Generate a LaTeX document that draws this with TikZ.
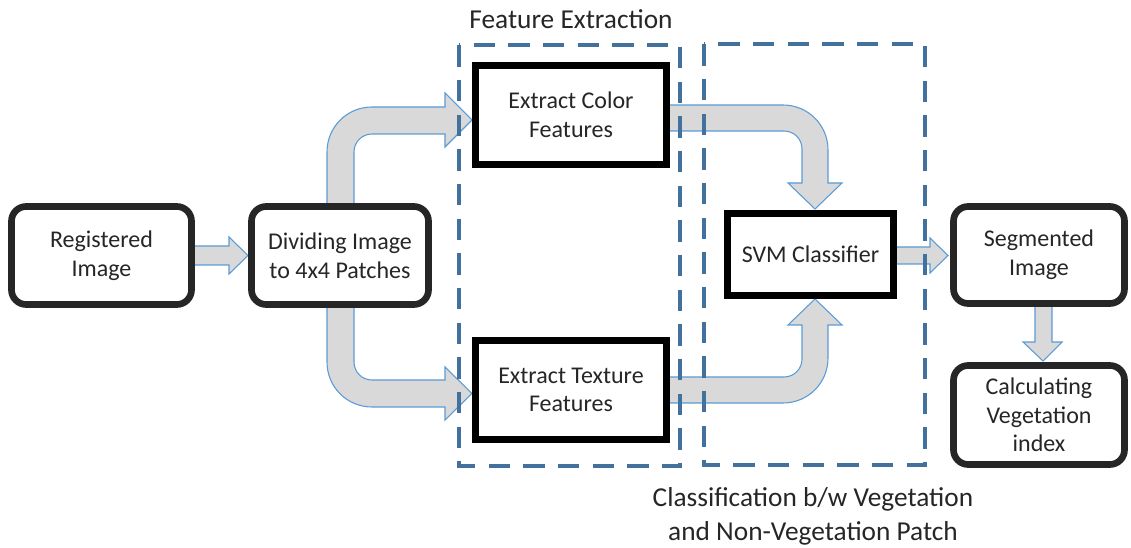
\documentclass[tikz,border=0pt]{standalone}
\usepackage{fontspec}
\setmainfont{Carlito}
\definecolor{txt}{HTML}{262626}
\definecolor{dashblue}{HTML}{41719C}
\definecolor{arrowfill}{HTML}{D9D9D9}
\definecolor{arrowline}{HTML}{5B9BD5}
\begin{document}
\begin{tikzpicture}[x=0.75pt,y=-0.75pt,
  rbox/.style={draw=txt,line width=5pt,rounded corners=11pt,fill=white,align=center,
    text=txt,font=\fontsize{18}{21.5}\selectfont,inner sep=0pt,outer sep=0pt},
  sbox/.style={draw=black,line width=5pt,fill=white,align=center,
    text=txt,font=\fontsize{18}{21.5}\selectfont,inner sep=0pt,outer sep=0pt},
  barrow/.style={fill=arrowfill,draw=arrowline,line width=0.8pt,line join=miter},
  groupbox/.style={draw=dashblue,line width=3pt,dash pattern=on 16pt off 10pt},
  lbl/.style={text=txt,align=center,font=\fontsize{20.5}{25.5}\selectfont,inner sep=0pt}]
\useasboundingbox (0,0) rectangle (1131,548);

% block arrows
\draw[barrow] (190,246) -- (229,246) -- (229,237) -- (248,255.5) -- (229,274) -- (229,265) -- (190,265) -- cycle;
\draw[barrow] (327,215) -- (327,152) .. controls (327,127) and (347,107) .. (372,107) -- (445,107) -- (445,93) -- (472,120) -- (445,147) -- (445,134) -- (372,134) .. controls (362,134) and (354,142) .. (354,152) -- (354,215) -- cycle;
\draw[barrow] (327,296) -- (327,362) .. controls (327,387) and (347,407) .. (372,407) -- (445,407) -- (445,420) -- (472,393.5) -- (445,367) -- (445,380) -- (372,380) .. controls (362,380) and (354,372) .. (354,362) -- (354,296) -- cycle;
\draw[barrow] (660,105) -- (783,105) .. controls (808,105) and (828,125) .. (828,150) -- (828,183) -- (842,183) -- (815,209) -- (788,183) -- (802,183) -- (802,149) .. controls (802,139) and (794,131) .. (784,131) -- (660,131) -- cycle;
\draw[barrow] (660,403) -- (783,403) .. controls (808,403) and (828,383) .. (828,358) -- (828,325) -- (842,325) -- (815,299) -- (788,325) -- (802,325) -- (802,359) .. controls (802,369) and (794,377) .. (784,377) -- (660,377) -- cycle;
\draw[barrow] (890,247) -- (930,247) -- (930,238) -- (948,255.5) -- (930,273) -- (930,264) -- (890,264) -- cycle;
\draw[barrow] (1035,300) -- (1035,342) -- (1023,342) -- (1043,361) -- (1062,342) -- (1052,342) -- (1052,300) -- cycle;

% boxes
\node[rbox,minimum width=135pt,minimum height=73.5pt] (reg) at (101.5,255.5) {Registered\\Image};
\node[rbox,minimum width=132.75pt,minimum height=73.5pt] (div) at (340,255.5) {Dividing Image\\to 4x4 Patches};
\node[sbox,minimum width=143.25pt,minimum height=74.25pt] (color) at (571,115) {Extract Color\\Features};
\node[sbox,minimum width=143.25pt,minimum height=74.25pt] (tex) at (571,390) {Extract Texture\\Features};
\node[sbox,minimum width=124.5pt,minimum height=61.5pt] (svm) at (810.5,254.5) {SVM Classifier};
\node[rbox,minimum width=128.25pt,minimum height=72.75pt] (seg) at (1039,255) {Segmented\\Image};
\node[rbox,minimum width=128.25pt,minimum height=74.25pt] (calc) at (1039,415) {Calculating\\Vegetation\\index};

% dashed group boxes
\draw[groupbox] (459,45.5) rectangle (680,466.5);
\draw[groupbox] (703.5,44.5) rectangle (924.5,465.5);

% labels
\node[lbl] (fe) at (571,19) {Feature Extraction};
\node[lbl] (cls) at (813,516) {Classification b/w Vegetation\\and Non-Vegetation Patch};
\end{tikzpicture}
\end{document}
